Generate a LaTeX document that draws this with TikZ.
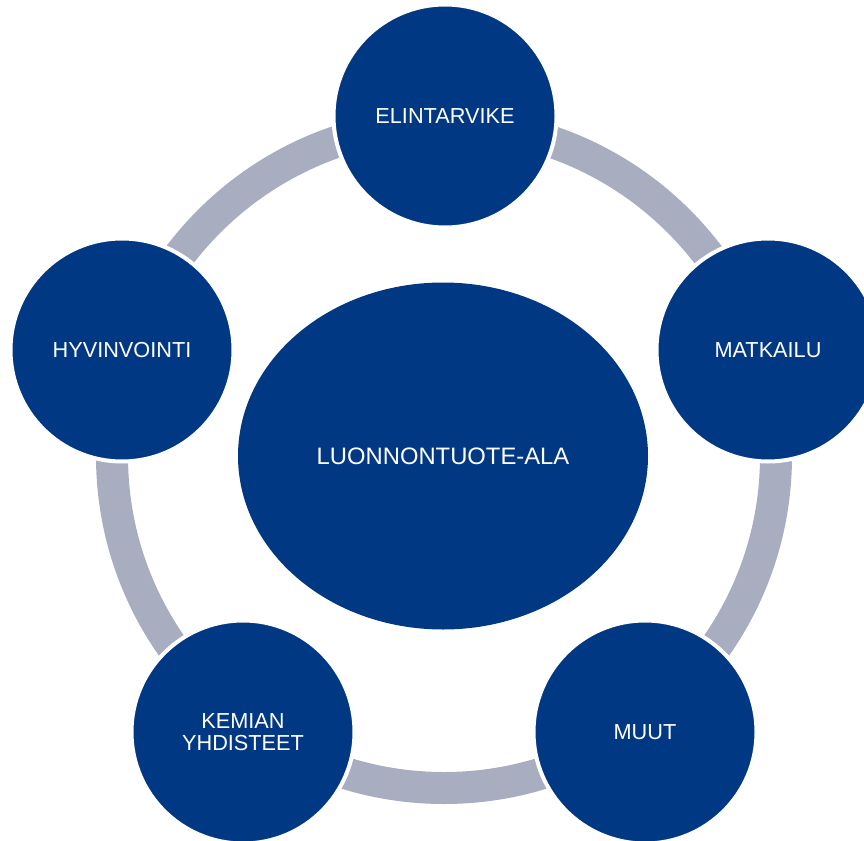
\documentclass[tikz,border=0pt]{standalone}
\usepackage{fontspec}
\setmainfont{Liberation Sans}
\usetikzlibrary{shapes.geometric,positioning}
\definecolor{sectorblue}{RGB}{0,56,132}
\definecolor{ringgray}{RGB}{169,173,192}
\tikzset{
ring/.style={
  draw=ringgray,
  line width=32pt
  },
bubble/.style={
  circle,
  fill=sectorblue,
  draw=white,
  line width=4pt,
  minimum size=223pt,
  inner sep=0pt,
  text=white,
  align=center,
  font=\fontsize{21.7}{22.3}\selectfont
  },
hub/.style={
  ellipse,
  fill=sectorblue,
  minimum width=410pt,
  minimum height=347pt,
  inner sep=0pt,
  text=white,
  font=\fontsize{23.8}{26}\selectfont
  }
}

\begin{document}
\begin{tikzpicture}[x=1pt,y=-1pt]
\useasboundingbox (0,0) rectangle (864,840);

\coordinate (mid) at (444,456);
\draw[ring] (mid) circle[radius=332pt];

\node[hub] (ala) at (443,456) {LUONNONTUOTE-ALA};

\node[bubble] (elin) at (445,116) {ELINTARVIKE};
\node[bubble] (matk) at (768,350) {MATKAILU};
\node[bubble] (muut) at (645,732) {MUUT};
\node[bubble] (kemi) at (243,732) {KEMIAN\\YHDISTEET};
\node[bubble] (hyvi) at (122,350) {HYVINVOINTI};

\end{tikzpicture}
\end{document}
